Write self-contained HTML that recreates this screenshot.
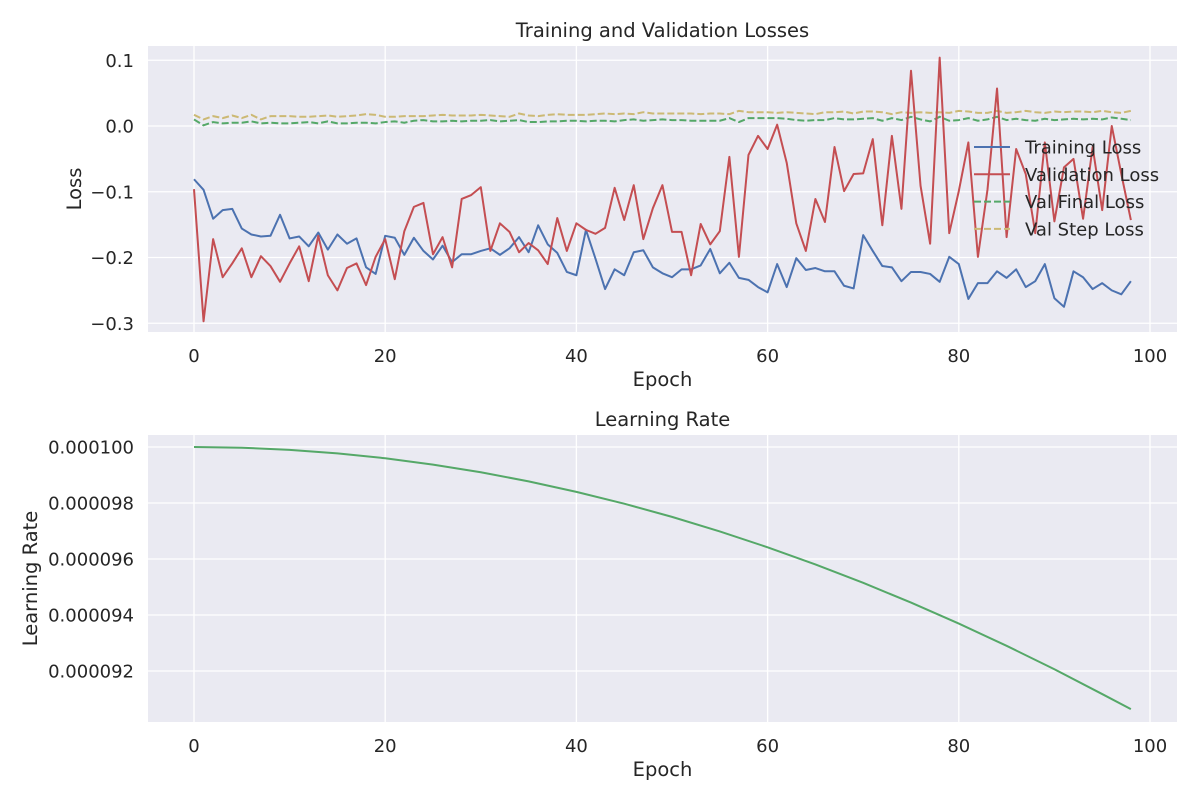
<!DOCTYPE html>
<html><head><meta charset="utf-8"><style>
body{margin:0;background:#fff;}
svg text{font-family:"DejaVu Sans","Liberation Sans",sans-serif;fill:#262626;}
</style></head><body>
<svg id="chart" width="1200" height="800" xmlns="http://www.w3.org/2000/svg"></svg>
<script>
const epochs=[];for(let i=0;i<99;i++)epochs.push(i);
const trainLoss=[-0.081,-0.097,-0.141,-0.128,-0.126,-0.156,-0.165,-0.168,-0.167,-0.135,-0.171,-0.168,-0.183,-0.162,-0.188,-0.165,-0.179,-0.171,-0.215,-0.225,-0.167,-0.17,-0.196,-0.17,-0.19,-0.203,-0.182,-0.207,-0.195,-0.195,-0.19,-0.186,-0.196,-0.186,-0.169,-0.192,-0.151,-0.18,-0.193,-0.222,-0.227,-0.158,-0.202,-0.248,-0.218,-0.227,-0.192,-0.189,-0.215,-0.224,-0.23,-0.218,-0.218,-0.212,-0.187,-0.224,-0.208,-0.231,-0.234,-0.245,-0.253,-0.21,-0.245,-0.201,-0.219,-0.216,-0.221,-0.221,-0.243,-0.247,-0.166,-0.19,-0.213,-0.215,-0.236,-0.222,-0.222,-0.225,-0.237,-0.199,-0.21,-0.263,-0.239,-0.239,-0.221,-0.231,-0.218,-0.245,-0.236,-0.21,-0.262,-0.275,-0.221,-0.23,-0.248,-0.239,-0.25,-0.256,-0.236];
const valLoss=[-0.096,-0.297,-0.172,-0.23,-0.209,-0.186,-0.23,-0.198,-0.213,-0.237,-0.209,-0.183,-0.236,-0.167,-0.227,-0.25,-0.216,-0.209,-0.242,-0.199,-0.172,-0.233,-0.16,-0.123,-0.117,-0.195,-0.169,-0.215,-0.111,-0.105,-0.093,-0.19,-0.148,-0.161,-0.192,-0.178,-0.189,-0.21,-0.14,-0.19,-0.148,-0.158,-0.164,-0.155,-0.094,-0.143,-0.09,-0.172,-0.125,-0.09,-0.161,-0.161,-0.227,-0.149,-0.18,-0.16,-0.047,-0.199,-0.044,-0.015,-0.035,0.002,-0.056,-0.148,-0.19,-0.111,-0.146,-0.032,-0.099,-0.073,-0.072,-0.02,-0.151,-0.015,-0.126,0.084,-0.091,-0.179,0.104,-0.163,-0.099,-0.025,-0.199,-0.097,0.057,-0.169,-0.035,-0.073,-0.163,-0.025,-0.145,-0.063,-0.05,-0.141,-0.032,-0.128,0.0,-0.073,-0.143];
const valFinal=[0.01,0.001,0.006,0.004,0.005,0.005,0.007,0.004,0.005,0.004,0.004,0.005,0.006,0.004,0.007,0.004,0.004,0.005,0.005,0.004,0.006,0.007,0.005,0.008,0.009,0.007,0.007,0.008,0.007,0.008,0.008,0.009,0.007,0.008,0.009,0.006,0.006,0.007,0.007,0.008,0.008,0.007,0.008,0.008,0.007,0.009,0.01,0.008,0.009,0.01,0.009,0.009,0.008,0.008,0.008,0.008,0.012,0.006,0.012,0.012,0.012,0.012,0.011,0.009,0.008,0.009,0.009,0.012,0.01,0.01,0.011,0.012,0.008,0.012,0.009,0.014,0.01,0.007,0.014,0.008,0.009,0.012,0.008,0.01,0.014,0.009,0.011,0.009,0.008,0.011,0.009,0.01,0.011,0.01,0.011,0.01,0.013,0.011,0.009];
const valStep=[0.017,0.01,0.015,0.012,0.016,0.012,0.017,0.01,0.015,0.015,0.015,0.014,0.014,0.015,0.016,0.014,0.015,0.016,0.018,0.017,0.014,0.014,0.015,0.015,0.015,0.016,0.017,0.016,0.016,0.016,0.017,0.016,0.015,0.014,0.019,0.016,0.015,0.017,0.018,0.017,0.017,0.017,0.018,0.019,0.018,0.019,0.018,0.021,0.019,0.019,0.019,0.019,0.019,0.018,0.019,0.019,0.018,0.023,0.021,0.021,0.021,0.02,0.021,0.02,0.019,0.018,0.021,0.021,0.022,0.019,0.022,0.022,0.021,0.018,0.021,0.02,0.021,0.02,0.021,0.02,0.023,0.022,0.02,0.02,0.023,0.02,0.021,0.023,0.021,0.02,0.022,0.021,0.022,0.022,0.021,0.023,0.021,0.02,0.023];
const lrEpochs=[0,5,10,15,20,25,30,35,40,45,50,55,60,65,70,75,80,85,90,95,98];
const lrValues=[0.000100000,0.0000999750,0.0000998990,0.0000997740,0.0000995980,0.0000993720,0.0000990970,0.0000987730,0.0000983970,0.0000979760,0.0000975040,0.0000969850,0.0000964190,0.0000958060,0.0000951480,0.0000944440,0.0000936930,0.0000928990,0.0000920630,0.0000911760,0.0000906400];
const xTicks=[0,20,40,60,80,100];
const lossTicks=[0.1,0.0,-0.1,-0.2,-0.3];
const lossTickLabels=["0.1","0.0","\u22120.1","\u22120.2","\u22120.3"];
const lrTicks=[0.000100,0.000098,0.000096,0.000094,0.000092];
const lrTickLabels=["0.000100","0.000098","0.000096","0.000094","0.000092"];

const svg=document.getElementById('chart');
const NS='http://www.w3.org/2000/svg';
function mk(tag,attrs,parent){const e=document.createElementNS(NS,tag);for(const k in attrs)e.setAttribute(k,attrs[k]);(parent||svg).appendChild(e);return e;}
const L=148,R=1177;
const xs=v=>194+(v)*9.56;
const yLoss=v=>126-v*657.5;
const yLr=v=>447+(0.0001-v)*1e6*28;
const TF=18, LF=19.5;

function panel(top,bottom,name,yTicks,yLabels,ys,title,ylabel,ylx){
  const g=mk('g',{});
  
  
  const bg=mk('rect',{x:L,y:top,width:R-L,height:bottom-top,fill:'#eaeaf2'},g);
  
  
  xTicks.forEach(t=>{
    mk('line',{x1:xs(t),x2:xs(t),y1:top,y2:bottom,stroke:'#fff','stroke-width':1.3},g);
    const tx=mk('text',{x:xs(t),y:bottom+30,'text-anchor':'middle','font-size':TF},g);
    tx.textContent=t;
    
    
  });
  yTicks.forEach((t,i)=>{
    mk('line',{x1:L,x2:R,y1:ys(t),y2:ys(t),stroke:'#fff','stroke-width':1.3},g);
    const tx=mk('text',{x:134,y:ys(t)+6.5,'text-anchor':'end','font-size':TF},g);
    tx.textContent=yLabels[i];
    
    
  });
  const ti=mk('text',{x:(L+R)/2,y:top-9,'text-anchor':'middle','font-size':LF},g);
  ti.textContent=title;
  
  
  const xl=mk('text',{x:(L+R)/2,y:bottom+54,'text-anchor':'middle','font-size':LF},g);
  xl.textContent='Epoch';
  
  
  const yl=mk('text',{x:ylx,y:(top+bottom)/2,'text-anchor':'middle','font-size':LF,transform:`rotate(-90 ${ylx} ${(top+bottom)/2})`},g);
  yl.textContent=ylabel;
  
  
  return g;
}
function line(xv,yv,ys,color,dash,name,parent){
  const p=mk('polyline',{points:xv.map((x,i)=>xs(x)+','+ys(yv[i])).join(' '),fill:'none',stroke:color,'stroke-width':2,'stroke-dasharray':dash||'none','stroke-linejoin':'round'},parent);
  
  
}
const g1=panel(46,332,'loss-panel',lossTicks,lossTickLabels,yLoss,'Training and Validation Losses','Loss',81);
line(epochs,valStep,yLoss,'#ccb974','7,3','val-step-loss-line',g1);
line(epochs,valFinal,yLoss,'#55a868','7,3','val-final-loss-line',g1);
line(epochs,trainLoss,yLoss,'#4c72b0',null,'training-loss-line',g1);
line(epochs,valLoss,yLoss,'#c44e52',null,'validation-loss-line',g1);
const legend=[['Training Loss','#4c72b0',null],['Validation Loss','#c44e52',null],['Val Final Loss','#55a868','7,3'],['Val Step Loss','#ccb974','7,3']];
legend.forEach((e,i)=>{
  const y=147+i*27.3;
  const lg=mk('g',{},g1);
  
  
  mk('line',{x1:974,x2:1010,y1:y,y2:y,stroke:e[1],'stroke-width':2,'stroke-dasharray':e[2]||'none'},lg);
  const t=mk('text',{x:1025,y:y+6.5,'font-size':TF},lg);
  t.textContent=e[0];
});
const g2=panel(435,722,'lr-panel',lrTicks,lrTickLabels,yLr,'Learning Rate','Learning Rate',37);
line(lrEpochs,lrValues,yLr,'#55a868',null,'learning-rate-line',g2);
</script>
</body></html>
